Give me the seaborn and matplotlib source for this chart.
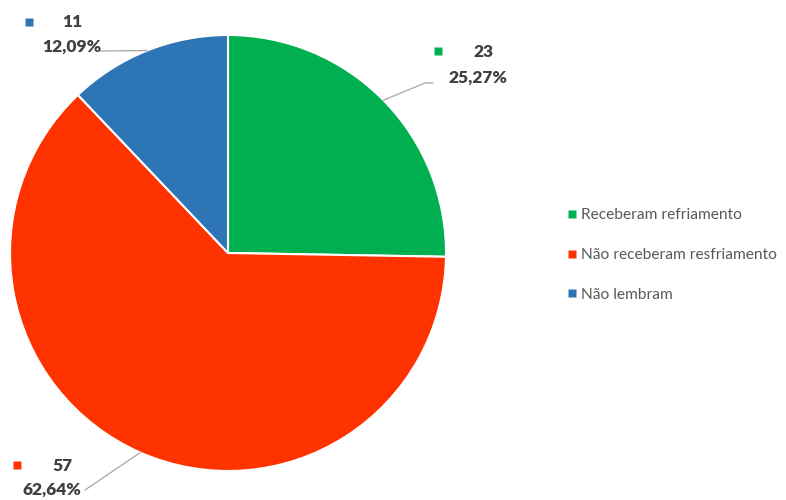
import numpy as np
import matplotlib
matplotlib.use("Agg")
import matplotlib.pyplot as plt
from matplotlib.lines import Line2D
import seaborn as sns

# Survey answers: did the participants receive cooling?
categories = ["Receberam refriamento", "Não receberam resfriamento", "Não lembram"]
counts = [23, 57, 11]
percent_labels = ["25,27%", "62,64%", "12,09%"]
colors = ["#00B050", "#FF3300", "#2E75B6"]

sns.set_theme(style="white")
plt.rcParams["font.family"] = ["Lato", "DejaVu Sans"]

W, H = 786, 500
fig = plt.figure(figsize=(W / 100, H / 100), dpi=100)
ax = fig.add_axes([0, 0, 1, 1])
ax.set_xlim(0, W)
ax.set_ylim(0, H)
ax.set_aspect("equal")
ax.axis("off")

cx, cy, r = 228, H - 253, 218
wedges, _ = ax.pie(counts, colors=colors, startangle=90, counterclock=False,
                   center=(cx, cy), radius=r,
                   wedgeprops=dict(edgecolor="white", linewidth=1.5))
ax.set_xlim(0, W)
ax.set_ylim(0, H)

# data label placement: (marker xy, count text xy, percent text xy, elbow points)
label_layout = [
    dict(marker=(438, 51), count=(483, 52), pct=(478, 78), elbow=[(425, 83), (433, 83)]),
    dict(marker=(17, 465), count=(62, 466), pct=(52, 490), elbow=[(85, 490)]),
    dict(marker=(29, 22), count=(72, 22), pct=(72, 47), elbow=[(100, 51)]),
]

text_col = "#404040"
for w, col, n, pct, lay in zip(wedges, colors, counts, percent_labels, label_layout):
    mid = np.deg2rad((w.theta1 + w.theta2) / 2)
    px, py = cx + r * np.cos(mid), cy + r * np.sin(mid)
    xs = [px] + [e[0] for e in lay["elbow"]]
    ys = [py] + [H - e[1] for e in lay["elbow"]]
    ax.plot(xs, ys, color="#A6A6A6", lw=0.9, zorder=3)
    mx, my = lay["marker"]
    ax.plot([mx], [H - my], marker="s", ms=6, color=col, mec="none", zorder=4)
    ax.text(lay["count"][0], H - lay["count"][1], str(n), ha="center", va="center",
            fontsize=12.5, fontweight="heavy", color=text_col)
    ax.text(lay["pct"][0], H - lay["pct"][1], pct, ha="center", va="center",
            fontsize=12.5, fontweight="heavy", color=text_col)

handles = [Line2D([0], [0], marker="s", ls="none", ms=5.5, color=c, mec="none") for c in colors]
leg = fig.legend(handles, categories, loc="center left", bbox_to_anchor=(558 / W, 1 - 255 / H),
                 frameon=False, fontsize=11.2, labelspacing=1.65, handletextpad=0.05,
                 handlelength=1.0, borderaxespad=0)
for t in leg.get_texts():
    t.set_color("#595959")

fig.savefig("out.png", dpi=100, facecolor="white")
